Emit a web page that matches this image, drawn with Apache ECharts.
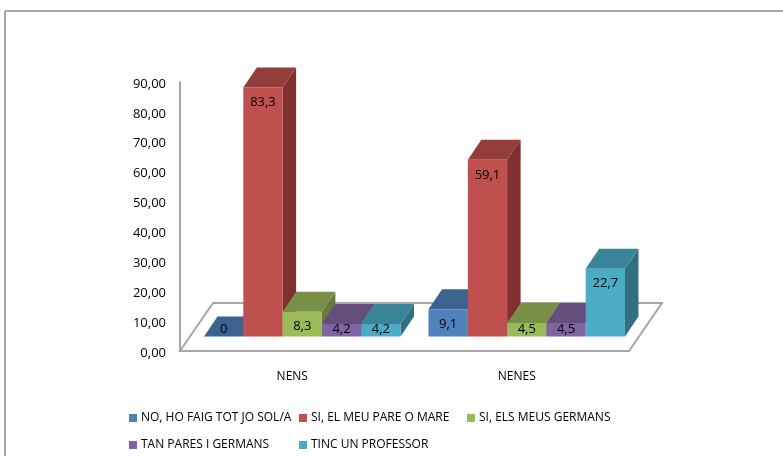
<!DOCTYPE html>
<html>
<head>
<meta charset="utf-8">
<style>
  html, body { margin: 0; padding: 0; background: #fff; }
  #chart { width: 783px; height: 456px; }
</style>
<script src="https://cdn.jsdelivr.net/npm/echarts@6/dist/echarts.min.js"></script>
</head>
<body>
<div id="chart"></div>
<script>
const categories = ['NENS', 'NENES'];
const yTicks = { min: 0, max: 90, interval: 10 };
const seriesNames = [
  'NO, HO FAIG TOT JO SOL/A',
  'SI, EL MEU PARE O MARE',
  'SI, ELS MEUS GERMANS',
  'TAN PARES I GERMANS',
  'TINC UN PROFESSOR'
];
const noSol = [0, 9.1];
const pareMare = [83.3, 59.1];
const germans = [8.3, 4.5];
const tanPares = [4.2, 4.5];
const professor = [4.2, 22.7];
const seriesValues = [noSol, pareMare, germans, tanPares, professor];

// colours per series: front, top, side
const frontColors = ['#4f81bd', '#c0504d', '#9bbb59', '#8064a2', '#4bacc6'];
const topColors = ['#3c6290', '#953d3b', '#788f45', '#634e7e', '#3a8499'];
const sideColors = ['#335379', '#7f302e', '#667a3a', '#54436b', '#326f81'];

const fontFamily = '"Open Sans", sans-serif';
const axisGray = '#a6a6a6';

// fake 3d: how far the bars and the floor are pushed back
const depthX = 13.5;
const depthY = 20;
const floorX = 33;
const floorY = 48;
const barShiftX = 10;
const barShiftY = 14.5;

function barRender(seriesIndex) {
  return function (params, api) {
    const center = api.coord([api.value(0), 0]);
    const top = api.coord([api.value(0), api.value(1)]);
    const barW = api.size([1, 0])[0] * 0.175;
    const x0 = center[0] + barShiftX + (seriesIndex - 2.5) * barW;
    const x1 = x0 + barW;
    const base = center[1] - barShiftY;
    const y = top[1] - barShiftY;
    return {
      type: 'group',
      children: [
        {
          type: 'polygon',
          shape: { points: [[x1, base], [x1 + depthX, base - depthY], [x1 + depthX, y - depthY], [x1, y]] },
          style: { fill: sideColors[seriesIndex] }
        },
        {
          type: 'polygon',
          shape: { points: [[x0, y], [x0 + depthX, y - depthY], [x1 + depthX, y - depthY], [x1, y]] },
          style: { fill: topColors[seriesIndex] }
        },
        {
          type: 'rect',
          shape: { x: x0, y: y, width: barW, height: base - y },
          style: { fill: frontColors[seriesIndex] }
        },
        {
          type: 'text',
          style: {
            x: (x0 + x1) / 2,
            y: Math.min(y + 15, base - 7),
            text: String(api.value(1)).replace('.', ','),
            align: 'center',
            verticalAlign: 'middle',
            fill: '#000',
            font: '13px ' + fontFamily
          }
        }
      ]
    };
  };
}

// floor of the 3d box, drawn from the grid rectangle
function floorRender(params) {
  const c = params.coordSys;
  const b = c.y + c.height;
  return {
    type: 'polygon',
    shape: {
      points: [
        [c.x, b],
        [c.x + c.width, b],
        [c.x + c.width + floorX, b - floorY],
        [c.x + floorX, b - floorY]
      ]
    },
    style: { fill: '#fff', stroke: axisGray, lineWidth: 2 }
  };
}

const barSeries = seriesNames.map(function (name, i) {
  return {
    name: name,
    type: 'custom',
    renderItem: barRender(i),
    encode: { x: 0, y: 1 },
    itemStyle: { color: frontColors[i] },
    data: seriesValues[i].map(function (v, c) { return [c, v]; }),
    z: 3
  };
});

// legend sits in two rows, one block per series
const legendSpots = [[125, 410], [295, 410], [463, 410], [125, 437], [295, 437]];

const myChart = echarts.init(document.getElementById('chart'));
myChart.setOption({
  animation: false,
  backgroundColor: '#fff',
  grid: { left: 180, top: 82, width: 449, height: 269 },
  graphic: [
    { type: 'line', shape: { x1: 5, y1: 11, x2: 783, y2: 11 }, style: { stroke: axisGray, lineWidth: 2 } },
    { type: 'line', shape: { x1: 5, y1: 11, x2: 5, y2: 456 }, style: { stroke: axisGray, lineWidth: 2 } }
  ],
  legend: seriesNames.map(function (name, i) {
    return {
      data: [name],
      left: legendSpots[i][0],
      top: legendSpots[i][1],
      icon: 'rect',
      itemWidth: 8,
      itemHeight: 8,
      itemGap: 0,
      padding: [2, 4],
      selectedMode: false,
      textStyle: { fontFamily: fontFamily, fontSize: 12, color: '#000', padding: [0, 0, 0, -1] }
    };
  }),
  xAxis: {
    type: 'category',
    data: categories,
    axisLine: { lineStyle: { color: axisGray, width: 2 } },
    axisTick: { show: false },
    axisLabel: { color: '#000', fontFamily: fontFamily, fontSize: 12, margin: 20 }
  },
  yAxis: {
    type: 'value',
    min: yTicks.min,
    max: yTicks.max,
    interval: yTicks.interval,
    axisLine: { show: true, lineStyle: { color: axisGray, width: 2 } },
    axisTick: { show: false },
    splitLine: { show: false },
    axisLabel: {
      color: '#000',
      fontFamily: fontFamily,
      fontSize: 13,
      margin: 14,
      verticalAlign: 'top',
      lineHeight: 4,
      formatter: function (v) { return v.toFixed(2).replace('.', ','); }
    }
  },
  series: [
    {
      type: 'custom',
      renderItem: floorRender,
      silent: true,
      data: [[0, 0]],
      encode: { x: 0, y: 1 },
      z: 1
    }
  ].concat(barSeries)
});
</script>
</body>
</html>
